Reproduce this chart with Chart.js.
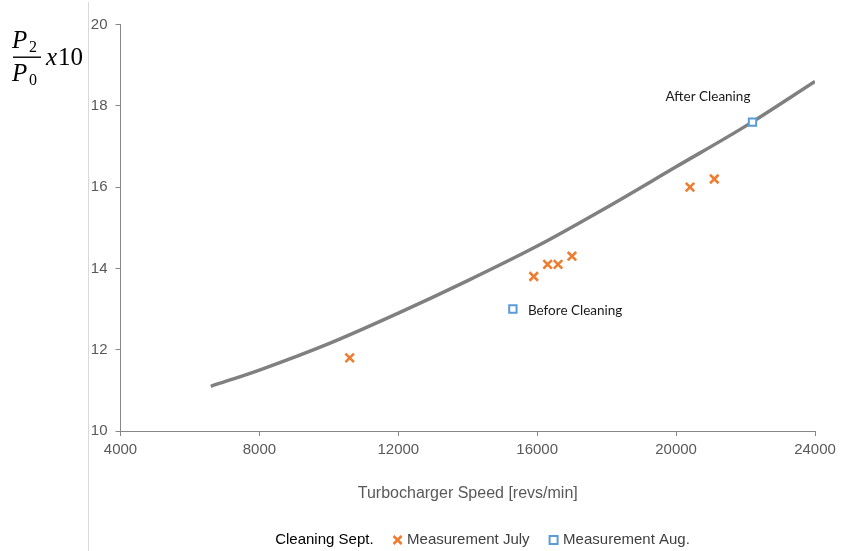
<!DOCTYPE html>
<html><head><meta charset="utf-8">
<script src="https://cdn.jsdelivr.net/npm/chart.js@4.4.1/dist/chart.umd.min.js"></script>
<style>html,body{margin:0;padding:0;background:#fff;}#wrap{width:853px;height:551px;}</style>
</head><body><div id="wrap"><canvas id="c" width="853" height="551"></canvas></div>
<script>
const xTicks = [4000, 8000, 12000, 16000, 20000, 24000];
const yTicks = [10, 12, 14, 16, 18, 20];
const seriesNames = ['Cleaning Sept.', 'Measurement July', 'Measurement Aug.'];
const cleaningSpeed = [6600, 8000, 10000, 12000, 14000, 16000, 18000, 20000, 22000, 24000];
const cleaningRatio = [11.1, 11.5, 12.15, 12.9, 13.7, 14.55, 15.5, 16.5, 17.5, 18.6];
const julySpeed = [10600, 15900, 16300, 16600, 17000, 20400, 21100];
const julyRatio = [11.8, 13.8, 14.1, 14.1, 14.3, 16.0, 16.2];
const augSpeed = [15300, 22200];
const augRatio = [13.0, 17.6];
const augNotes = ['Before Cleaning', 'After Cleaning'];

const toPts = (xs, ys) => xs.map((x, i) => ({x, y: ys[i]}));
const SANS = '"Liberation Sans", Arial, sans-serif';

const decor = {
  id: 'decor',
  afterLayout(chart) {
    const lg = chart.legend;
    if (lg) { lg.left += 9; lg.right += 9; lg.top += 6.5; lg.bottom += 6.5; }
  },
  beforeDraw(chart) {
    const ctx = chart.ctx;
    ctx.save();
    ctx.strokeStyle = '#d9d9d9';
    ctx.lineWidth = 1;
    ctx.beginPath(); ctx.moveTo(88.5, 2); ctx.lineTo(88.5, 551); ctx.stroke();
    ctx.restore();
  },
  afterDatasetsDraw(chart) {
    const ctx = chart.ctx;
    ctx.save();
    const meta = chart.getDatasetMeta(2);
    ctx.font = '13.5px Lato, "Open Sans", sans-serif';
    ctx.fillStyle = '#1a1a1a';
    ctx.textBaseline = 'middle';
    ctx.textAlign = 'left';
    const offs = [[15, 2], [-87, -25]];
    meta.data.forEach((pt, i) => {
      ctx.fillText(augNotes[i], pt.x + offs[i][0], pt.y + offs[i][1]);
    });
    // y-axis label: P2/P0 x10
    ctx.fillStyle = '#000';
    ctx.textBaseline = 'alphabetic';
    ctx.font = 'italic 25px "Liberation Serif", serif';
    ctx.fillText('P', 12, 48);
    ctx.fillText('P', 12, 81);
    ctx.font = '16px "Liberation Serif", serif';
    ctx.fillText('2', 29, 52);
    ctx.fillText('0', 29, 85);
    ctx.fillRect(13, 56.5, 28, 1.4);
    ctx.font = 'italic 25px "Liberation Serif", serif';
    ctx.fillText('x', 46, 65);
    ctx.font = '25px "Liberation Serif", serif';
    ctx.fillText('10', 58, 65);
    ctx.restore();
  }
};

new Chart(document.getElementById('c'), {
  type: 'scatter',
  data: {
    datasets: [
      {
        label: seriesNames[0],
        data: toPts(cleaningSpeed, cleaningRatio),
        showLine: true,
        borderColor: '#808080',
        backgroundColor: '#808080',
        borderWidth: 3.5,
        pointRadius: 0,
        pointHoverRadius: 0,
        cubicInterpolationMode: 'monotone',
        fill: false,
        order: 3
      },
      {
        label: seriesNames[1],
        data: toPts(julySpeed, julyRatio),
        pointStyle: 'crossRot',
        pointRadius: 6,
        borderColor: '#ED7D31',
        backgroundColor: '#ED7D31',
        borderWidth: 2.6,
        order: 2
      },
      {
        label: seriesNames[2],
        data: toPts(augSpeed, augRatio),
        pointStyle: 'rect',
        pointRadius: 5.2,
        borderColor: '#5B9BD5',
        backgroundColor: '#ffffff',
        borderWidth: 2,
        order: 1
      }
    ]
  },
  options: {
    responsive: false,
    animation: false,
    devicePixelRatio: 1,
    layout: { padding: { top: 24.5, right: 38, left: 0, bottom: 0 } },
    scales: {
      x: {
        type: 'linear',
        min: xTicks[0], max: xTicks[xTicks.length - 1],
        afterBuildTicks: (s) => { s.ticks = xTicks.map(v => ({value: v})); },
        afterFit: (s) => { s.height = 73; },
        grid: { drawOnChartArea: false, drawTicks: true, tickLength: 5, color: '#868686' },
        border: { color: '#868686', width: 1 },
        ticks: { color: '#595959', font: { family: SANS, size: 15 }, padding: 5, maxRotation: 0,
                 callback: (v) => String(v) },
        title: { display: true, text: 'Turbocharger Speed [revs/min]', color: '#595959',
                 font: { family: SANS, size: 16, lineHeight: 1 }, padding: { top: 0, bottom: 2 } }
      },
      y: {
        type: 'linear',
        min: yTicks[0], max: yTicks[yTicks.length - 1],
        afterBuildTicks: (s) => { s.ticks = yTicks.map(v => ({value: v})); },
        afterFit: (s) => { s.width = 120.5; },
        grid: { drawOnChartArea: false, drawTicks: true, tickLength: 5, color: '#868686' },
        border: { color: '#868686', width: 1 },
        ticks: { color: '#595959', font: { family: SANS, size: 15 }, padding: 8,
                 callback: (v) => String(v) }
      }
    },
    plugins: {
      tooltip: { enabled: false },
      legend: {
        position: 'bottom',
        fullSize: false,
        labels: {
          usePointStyle: true,
          boxWidth: 4,
          boxHeight: 8,
          padding: 22,
          color: '#595959',
          font: { family: SANS, size: 15, lineHeight: 1 },
          sort: (a, b) => a.datasetIndex - b.datasetIndex,
          generateLabels: (chart) => {
            const items = Chart.defaults.plugins.legend.labels.generateLabels(chart);
            items.forEach(it => {
              if (it.datasetIndex === 0) {
                it.fillStyle = 'rgba(0,0,0,0)';
                it.strokeStyle = 'rgba(0,0,0,0)';
                it.lineWidth = 0;
                it.fontColor = '#000000';
              } else {
                it.fontColor = '#404040';
              }
            });
            return items;
          }
        }
      }
    }
  },
  plugins: [decor]
});
</script>
</body></html>
